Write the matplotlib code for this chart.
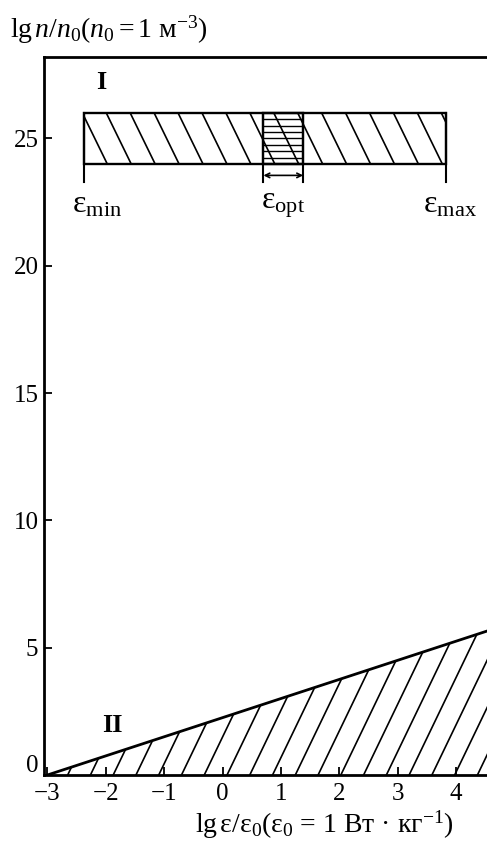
import numpy as np
import matplotlib
matplotlib.use("Agg")
import matplotlib.pyplot as plt
import matplotlib.transforms as mtransforms
from matplotlib.patches import Polygon

plt.rcParams['font.family'] = ['Liberation Serif', 'DejaVu Serif']
plt.rcParams['mathtext.fontset'] = 'custom'
plt.rcParams['mathtext.rm'] = 'Liberation Serif'
plt.rcParams['mathtext.it'] = 'Liberation Serif:italic'
plt.rcParams['mathtext.bf'] = 'Liberation Serif:bold'

# ---- data ----
x_ticks = [-3, -2, -1, 0, 1, 2, 3, 4]
y_ticks = [0, 5, 10, 15, 20, 25]
band_low, band_high = 24, 26
eps_min, eps_opt_lo, eps_opt_hi, eps_max = -2.37, 0.70, 1.38, 3.83
line2_x = [-3.0, 4.7]
line2_y = [0.0, 5.78]
marker_bottom = 23.3
arrow_y = 23.55

fig = plt.figure(figsize=(4.87, 8.42), dpi=100)
ax = fig.add_axes([0.0903, 0.0796, 0.9097, 0.8527])
ax.set_xlim(-3.06, 4.53)
ax.set_ylim(0, 28.2)

for s in ['left', 'bottom', 'top']:
    ax.spines[s].set_linewidth(2.0)
ax.spines['right'].set_visible(False)
ax.set_xticks(x_ticks)
ax.set_yticks(y_ticks)
ax.set_xticklabels([str(v).replace('-', '\u2212') for v in x_ticks])
ax.tick_params(direction='in', length=6, width=1.3, labelsize=18)
ax.tick_params(axis='x', pad=6)
ax.tick_params(axis='y', pad=4)

# lift the "0" label on the y axis slightly, as in the reference
fig.canvas.draw()
zero_lbl = ax.yaxis.get_major_ticks()[0].label1
zero_lbl.set_transform(zero_lbl.get_transform() +
                       mtransforms.ScaledTranslation(0, 8 / 72, fig.dpi_scale_trans))


def hatch(ax, patch, x0, x1, y0, y1, dxdy, step, lw=1.2):
    span = abs(dxdy) * (y1 - y0)
    for c in np.arange(x0 - span - step, x1 + span + step, step):
        ln, = ax.plot([c, c + dxdy * (y1 - y0)], [y0, y1], color='k', lw=lw)
        ln.set_clip_path(patch)


# Region I band
band = Polygon([[eps_min, band_low], [eps_max, band_low], [eps_max, band_high], [eps_min, band_high]],
               closed=True, fill=False, edgecolor='k', lw=1.7)
ax.add_patch(band)
hatch(ax, band, eps_min, eps_max, band_low, band_high, -0.213, 0.41)
opt = Polygon([[eps_opt_lo, band_low], [eps_opt_hi, band_low], [eps_opt_hi, band_high], [eps_opt_lo, band_high]],
              closed=True, fill=False, edgecolor='k', lw=1.7)
ax.add_patch(opt)
for yy in np.arange(band_low + 0.25, band_high, 0.25):
    ln, = ax.plot([eps_opt_lo, eps_opt_hi], [yy, yy], color='k', lw=1.0)
    ln.set_clip_path(opt)
for xv in [eps_min, eps_opt_lo, eps_opt_hi, eps_max]:
    ax.plot([xv, xv], [marker_bottom, band_high], color='k', lw=1.5)
ax.annotate('', xy=(eps_opt_lo, arrow_y), xytext=(eps_opt_hi, arrow_y),
            arrowprops=dict(arrowstyle='<->', color='k', lw=1.2, shrinkA=0, shrinkB=0,
                            mutation_scale=8))
ax.text(eps_min + 0.22, 22.95, r'ε$_{\rm min}$', fontsize=23, ha='center', va='top')
ax.text((eps_opt_lo + eps_opt_hi) / 2, 22.95, r'ε$_{\rm opt}$', fontsize=23, ha='center', va='top')
ax.text(eps_max + 0.06, 22.95, r'ε$_{\rm max}$', fontsize=23, ha='center', va='top')
ax.text(-2.08, 27.2, 'I', fontsize=19, ha='center', va='center', fontweight='bold')

# Region II
ax.plot(line2_x, line2_y, color='k', lw=2.0)
reg2 = Polygon([[line2_x[0], 0], [line2_x[1], 0], [line2_x[1], line2_y[1]], [line2_x[0], line2_y[0]]],
               closed=True, fill=False, edgecolor='none')
ax.add_patch(reg2)
hatch(ax, reg2, line2_x[0], line2_x[1], 0, line2_y[1], 0.21, 0.39)
ax.text(-1.88, 1.95, 'II', fontsize=19, ha='center', va='center', fontweight='bold')

fig.text(0.02, 0.965, r'lg$\,n/n_0(n_0 = 1$ м$^{-3}$)', fontsize=20, ha='left', va='center')
fig.text(0.40, 0.020, r'lg$\,$ε/ε$_0$(ε$_0$ = 1 Вт · кг$^{-1}$)', fontsize=20, ha='left', va='center')

fig.savefig('out.png', dpi=100)
